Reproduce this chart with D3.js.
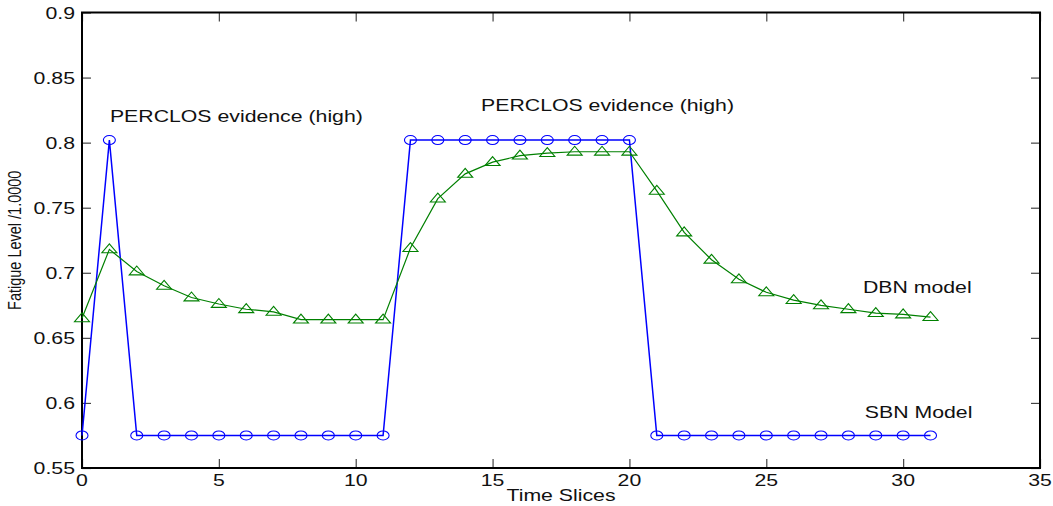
<!DOCTYPE html>
<html>
<head>
<meta charset="utf-8">
<script src="https://cdn.jsdelivr.net/npm/d3@7"></script>
<style>
  html, body { margin: 0; padding: 0; background: #fff; }
  text { font-family: 'Liberation Sans', Arial, sans-serif; fill: #111; }
</style>
</head>
<body>
<div id="chart"></div>
<script>
let slices = d3.range(0, 32)

let sbnValues = [
  0.575, 0.802, 0.575, 0.575, 0.575, 0.575, 0.575, 0.575, 0.575, 0.575,
  0.575, 0.575, 0.802, 0.802, 0.802, 0.802, 0.802, 0.802, 0.802, 0.802,
  0.802, 0.575, 0.575, 0.575, 0.575, 0.575, 0.575, 0.575, 0.575, 0.575,
  0.575, 0.575
]

let dbnValues = [
  0.665, 0.718, 0.701, 0.690, 0.681, 0.676, 0.672, 0.670, 0.664, 0.664,
  0.664, 0.664, 0.719, 0.757, 0.776, 0.785, 0.790, 0.792, 0.793, 0.793,
  0.793, 0.763, 0.731, 0.710, 0.695, 0.685, 0.679, 0.675, 0.672, 0.669,
  0.668, 0.666
]

let xTicks = [0, 5, 10, 15, 20, 25, 30, 35]
let yTicks = [0.55, 0.6, 0.65, 0.7, 0.75, 0.8, 0.85, 0.9]

let notes = [
  { text: 'PERCLOS evidence (high)', x: 1.02, y: 0.8157 },
  { text: 'PERCLOS evidence (high)', x: 14.58, y: 0.8242 },
  { text: 'DBN model', x: 28.53, y: 0.6842 },
  { text: 'SBN Model', x: 28.6, y: 0.5888 }
]

let width = 1053
let height = 506
let margin = { top: 12.5, left: 82, right: 13, bottom: 38 }
let stretch = 1.33
let fontSize = 16

let svg = d3
  .select('#chart')
  .append('svg')
  .attr('width', width)
  .attr('height', height)

let xScale = d3
  .scaleLinear()
  .domain([0, 35])
  .range([margin.left, width - margin.right])

let yScale = d3
  .scaleLinear()
  .domain([0.55, 0.9])
  .range([height - margin.bottom, margin.top])

let fmt = d => (d === 0.9 || d === 0.8 || d === 0.7 || d === 0.6 ? d3.format('.1f')(d) : d3.format('.2f')(d))

// tick marks on all four sides, pointing in
let tickLen = 9
let bottomAxis = d3.axisBottom(xScale).tickValues(xTicks).tickSize(-tickLen).tickFormat('')
let topAxis = d3.axisTop(xScale).tickValues(xTicks).tickSize(-tickLen).tickFormat('')
let leftAxis = d3.axisLeft(yScale).tickValues(yTicks).tickSize(-tickLen).tickFormat('')
let rightAxis = d3.axisRight(yScale).tickValues(yTicks).tickSize(-tickLen).tickFormat('')

svg.append('g').attr('transform', `translate(0,${yScale(0.55)})`).call(bottomAxis)
svg.append('g').attr('transform', `translate(0,${yScale(0.9)})`).call(topAxis)
svg.append('g').attr('transform', `translate(${xScale(0)},0)`).call(leftAxis)
svg.append('g').attr('transform', `translate(${xScale(35)},0)`).call(rightAxis)

svg.selectAll('.domain').remove()
svg.selectAll('.tick line').attr('stroke', '#444').attr('stroke-width', 1.2)

svg
  .append('rect')
  .attr('x', xScale(0))
  .attr('y', yScale(0.9))
  .attr('width', xScale(35) - xScale(0))
  .attr('height', yScale(0.55) - yScale(0.9))
  .attr('fill', 'none')
  .attr('stroke', '#000')
  .attr('stroke-width', 2)

// tick labels (the picture is stretched sideways, so text is too)
svg
  .selectAll('.xlab')
  .data(xTicks)
  .enter()
  .append('text')
  .attr('class', 'xlab')
  .attr('transform', d => `translate(${xScale(d)},${yScale(0.55) + 18}) scale(${stretch},1)`)
  .attr('text-anchor', 'middle')
  .attr('font-size', fontSize)
  .text(d => d)

svg
  .selectAll('.ylab')
  .data(yTicks)
  .enter()
  .append('text')
  .attr('class', 'ylab')
  .attr('transform', d => `translate(${xScale(0) - 7},${yScale(d) + 6}) scale(${stretch},1)`)
  .attr('text-anchor', 'end')
  .attr('font-size', fontSize)
  .text(fmt)

svg
  .append('text')
  .attr('transform', `translate(${(xScale(0) + xScale(35)) / 2},${height - 5}) scale(${stretch},1)`)
  .attr('text-anchor', 'middle')
  .attr('font-size', fontSize)
  .text('Time Slices')

svg
  .append('text')
  .attr('transform', `translate(21,${yScale(0.725)}) scale(${stretch},1) rotate(-90)`)
  .attr('text-anchor', 'middle')
  .attr('font-size', 14.5)
  .text('Fatigue Level /1.0000')

// lines
let line = d3
  .line()
  .x((d, i) => xScale(slices[i]))
  .y(d => yScale(d))

svg
  .append('path')
  .datum(sbnValues)
  .attr('d', line)
  .attr('fill', 'none')
  .attr('stroke', '#0000ff')
  .attr('stroke-width', 1.5)

svg
  .append('path')
  .datum(dbnValues)
  .attr('d', line)
  .attr('fill', 'none')
  .attr('stroke', '#008000')
  .attr('stroke-width', 1.2)

svg
  .selectAll('.sbn')
  .data(sbnValues)
  .enter()
  .append('ellipse')
  .attr('class', 'sbn')
  .attr('cx', (d, i) => xScale(slices[i]))
  .attr('cy', d => yScale(d))
  .attr('rx', 6)
  .attr('ry', 4.5)
  .attr('fill', 'none')
  .attr('stroke', '#0000ff')
  .attr('stroke-width', 1.1)

let tri = 'M0,-5.5L7.5,3.4L-7.5,3.4Z'
svg
  .selectAll('.dbn')
  .data(dbnValues)
  .enter()
  .append('path')
  .attr('class', 'dbn')
  .attr('d', tri)
  .attr('transform', (d, i) => `translate(${xScale(slices[i])},${yScale(d)})`)
  .attr('fill', 'none')
  .attr('stroke', '#008000')
  .attr('stroke-width', 1.1)

svg
  .selectAll('.note')
  .data(notes)
  .enter()
  .append('text')
  .attr('class', 'note')
  .attr('transform', d => `translate(${xScale(d.x)},${yScale(d.y)}) scale(${stretch},1)`)
  .attr('font-size', fontSize)
  .text(d => d.text)
</script>
</body>
</html>
